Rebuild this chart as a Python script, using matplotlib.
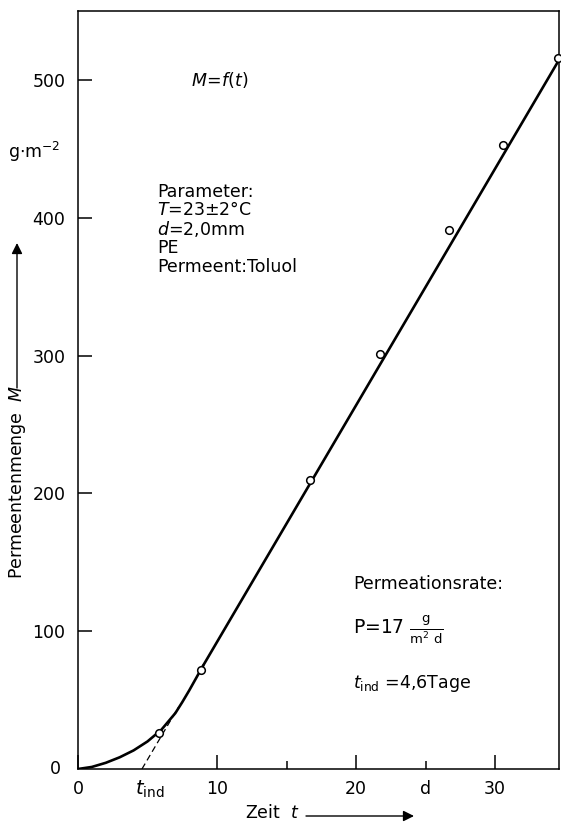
import matplotlib
matplotlib.use("Agg")
import matplotlib.pyplot as plt

# measured points (t in days, M in g/m^2)
t_meas = [5.85, 8.85, 16.7, 21.7, 26.7, 30.6, 34.5]
m_meas = [26, 72, 210, 301, 391, 453, 516]

# curved start of the fitted curve
t_curve = [0, 1, 2, 3, 4, 5, 6, 7, 7.5, 8, 8.5, 9]
m_curve = [0, 1.5, 4.5, 8.5, 13.5, 20, 28.5, 40.5, 48.5, 57, 66, 75]

# straight part
t_line = [9, 34.6]
m_line = [75, 514.5]

# tangent extension down to t_ind
t_dash = [4.6, 7.2]
m_dash = [0, 44.5]

x_major = [0, 10, 20, 30]
x_major_labels = ["0", "10", "20", "30"]
x_minor = [15, 25]
x_minor_labels = ["", "d"]
y_ticks = [100, 200, 300, 400, 500]
y_labels = ["100", "200", "300", "400", "500"]

plt.rcParams['font.family'] = 'DejaVu Sans'
fig = plt.figure(figsize=(5.61, 8.23), dpi=100)
W, H = 561, 823
ax = fig.add_axes([78 / W, (H - 769) / H, (559 - 78) / W, (769 - 11) / H])

ax.plot(t_curve, m_curve, color='black', lw=1.9, solid_capstyle='round')
ax.plot(t_line, m_line, color='black', lw=1.9, solid_capstyle='round')
ax.plot(t_dash, m_dash, color='black', lw=0.9, dashes=(5, 3))
ax.plot(t_meas, m_meas, 'o', ms=5.5, mfc='white', mec='black', mew=1.1, clip_on=False, zorder=5)

ax.set_xlim(0, 34.6)
ax.set_ylim(0, 550)

for s in ax.spines.values():
    s.set_linewidth(1.1)

ax.set_xticks(x_major)
ax.set_xticklabels(x_major_labels)
ax.set_xticks(x_minor, minor=True)
ax.set_xticklabels(x_minor_labels, minor=True)
ax.set_yticks(y_ticks)
ax.set_yticklabels(y_labels)
ax.tick_params(axis='x', which='major', direction='in', length=10, width=1.1, labelsize=12.5, pad=8)
ax.tick_params(axis='x', which='minor', direction='in', length=6, width=1.1, labelsize=12.5, pad=8)
ax.tick_params(axis='y', direction='in', length=10, width=1.1, labelsize=12.5, pad=9)

# zero label on the y axis
ax.text(-1.2, 0, "0", ha='right', va='center', fontsize=12.5)
ax.text(4.1, -15, r"$t_{\mathrm{ind}}$", ha='left', va='center', fontsize=14)

fs = 12.5
ax.text(10.2, 500, r"$M\!=\!f(t)$", ha='center', va='center', fontsize=fs)
par_lines = ["Parameter:", r"$T$=23±2°C", r"$d$=2,0mm", "PE", "Permeent:Toluol"]
for i, s in enumerate(par_lines):
    ax.text(5.7, 419 - i * 13.6, s, ha='left', va='center', fontsize=fs)

ax.text(19.8, 134, "Permeationsrate:", ha='left', va='center', fontsize=fs)
ax.text(19.8, 101, r"P=17 $\frac{\mathrm{g}}{\mathrm{m}^2\ \mathrm{d}}$", ha='left', va='center', fontsize=fs + 1)
ax.text(19.8, 62, r"$t_{\mathrm{ind}}$ =4,6Tage", ha='left', va='center', fontsize=fs)

# units, axis labels and arrows in figure pixels
def fx(px):
    return px / W

def fy(py):
    return (H - py) / H

fig.text(fx(34), fy(152), r"g$\cdot$m$^{-2}$", ha='center', va='center', fontsize=fs)
fig.text(fx(18), fy(482), r"Permeentenmenge  $M$", rotation=90, ha='center', va='center', fontsize=fs)
ax.annotate("", xy=(fx(17), fy(243)), xytext=(fx(17), fy(388)), xycoords='figure fraction',
            arrowprops=dict(arrowstyle='-|>', color='black', lw=1.0, mutation_scale=16,
                            shrinkA=0, shrinkB=0))

fig.text(fx(272), fy(813), r"Zeit  $t$", ha='center', va='center', fontsize=fs)
ax.annotate("", xy=(fx(414), fy(816)), xytext=(fx(306), fy(816)), xycoords='figure fraction',
            arrowprops=dict(arrowstyle='-|>', color='black', lw=1.0, mutation_scale=16,
                            shrinkA=0, shrinkB=0))

fig.savefig("out.png", dpi=100)
